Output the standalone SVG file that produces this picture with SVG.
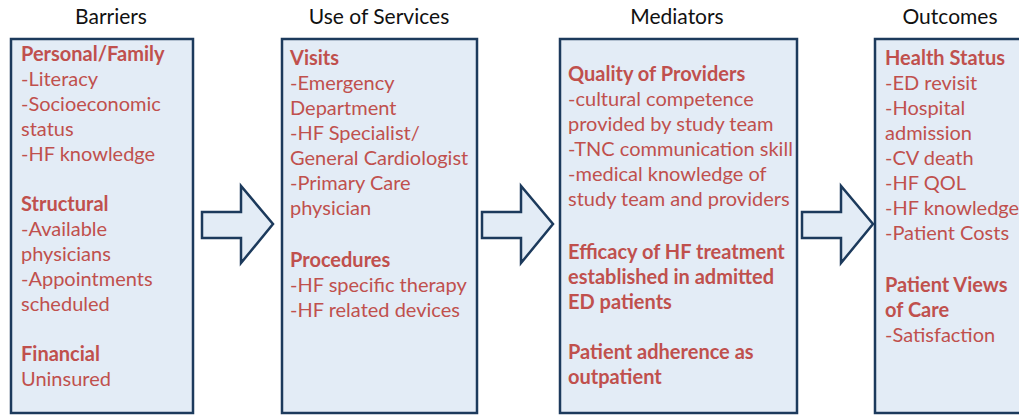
<svg xmlns="http://www.w3.org/2000/svg" width="1019" height="415" viewBox="0 0 1019 415">
  <style>
    .box { fill: #e3ecf6; stroke: #1c3a5c; stroke-width: 2.5; }
    .arrow { fill: #e3ecf6; stroke: #1c3a5c; stroke-width: 2.5; stroke-linejoin: miter; }
    .title { font-family: Lato, "Liberation Sans", sans-serif; font-size: 21px; fill: #111; text-anchor: middle; }
    .t { font-family: Lato, "Liberation Sans", sans-serif; font-size: 20px; fill: #c0504d; }
    .h { font-weight: bold; }
  </style>
  <rect width="1019" height="415" fill="#ffffff"/>

  <!-- column headings -->
  <g id="titles">
    <text class="title" x="111" y="24">Barriers</text>
    <text class="title" x="379" y="24">Use of Services</text>
    <text class="title" x="677" y="24">Mediators</text>
    <text class="title" x="950" y="24">Outcomes</text>
  </g>

  <g id="barriers">
    <rect class="box" x="11" y="39" width="182" height="374"/>
    <text class="t h" x="21" y="61">Personal/Family</text>
    <text class="t" x="21" y="86">-Literacy</text>
    <text class="t" x="21" y="111">-Socioeconomic</text>
    <text class="t" x="21" y="136">status</text>
    <text class="t" x="21" y="161">-HF knowledge</text>
    <text class="t h" x="21" y="211">Structural</text>
    <text class="t" x="21" y="236">-Available</text>
    <text class="t" x="21" y="261">physicians</text>
    <text class="t" x="21" y="286">-Appointments</text>
    <text class="t" x="21" y="311">scheduled</text>
    <text class="t h" x="21" y="361">Financial</text>
    <text class="t" x="21" y="386">Uninsured</text>
  </g>

  <g id="use-of-services">
    <rect class="box" x="282" y="39" width="195" height="374"/>
    <text class="t h" x="290" y="65">Visits</text>
    <text class="t" x="290" y="90">-Emergency</text>
    <text class="t" x="290" y="115">Department</text>
    <text class="t" x="290" y="140">-HF Specialist/</text>
    <text class="t" x="290" y="165">General Cardiologist</text>
    <text class="t" x="290" y="190">-Primary Care</text>
    <text class="t" x="290" y="215">physician</text>
    <text class="t h" x="290" y="267">Procedures</text>
    <text class="t" x="290" y="292">-HF specific therapy</text>
    <text class="t" x="290" y="317">-HF related devices</text>
  </g>

  <g id="mediators">
    <rect class="box" x="560" y="39" width="237" height="374"/>
    <text class="t h" x="568" y="81">Quality of Providers</text>
    <text class="t" x="568" y="106">-cultural competence</text>
    <text class="t" x="568" y="131">provided by study team</text>
    <text class="t" x="568" y="156">-TNC communication skill</text>
    <text class="t" x="568" y="181">-medical knowledge of</text>
    <text class="t" x="568" y="206">study team and providers</text>
    <text class="t h" x="568" y="259">Efficacy of HF treatment</text>
    <text class="t h" x="568" y="284">established in admitted</text>
    <text class="t h" x="568" y="309">ED patients</text>
    <text class="t h" x="568" y="359">Patient adherence as</text>
    <text class="t h" x="568" y="384">outpatient</text>
  </g>

  <g id="outcomes">
    <rect class="box" x="875" y="39" width="150" height="374"/>
    <text class="t h" x="885" y="65">Health Status</text>
    <text class="t" x="885" y="90">-ED revisit</text>
    <text class="t" x="885" y="115">-Hospital</text>
    <text class="t" x="885" y="140">admission</text>
    <text class="t" x="885" y="165">-CV death</text>
    <text class="t" x="885" y="190">-HF QOL</text>
    <text class="t" x="885" y="215">-HF knowledge</text>
    <text class="t" x="885" y="240">-Patient Costs</text>
    <text class="t h" x="885" y="292">Patient Views</text>
    <text class="t h" x="885" y="317">of Care</text>
    <text class="t" x="885" y="342">-Satisfaction</text>
  </g>

  <!-- block arrows between the columns -->
  <g id="connectors">
    <polygon class="arrow" points="202,212 241,212 241,186 273,224 241,263 241,238 202,238"/>
    <polygon class="arrow" points="482,212 521,212 521,186 553,224 521,263 521,238 482,238"/>
    <polygon class="arrow" points="802,212 841,212 841,186 873,224 841,263 841,238 802,238"/>
  </g>
</svg>
